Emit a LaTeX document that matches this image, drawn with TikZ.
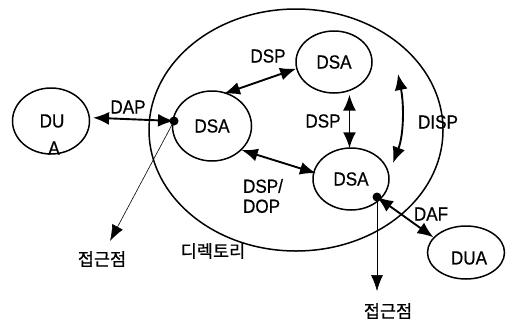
\documentclass[tikz,border=0pt]{standalone}
\usepackage{fontspec}
\setmainfont{Liberation Sans}[FakeStretch=0.9,FakeBold=0.6]
\newfontfamily\kr{Noto Sans CJK KR}[FakeBold=0.6]
\usetikzlibrary{shapes.geometric,arrows.meta}
\begin{document}
\begin{tikzpicture}[x=1pt,y=-1pt,
  ell/.style={draw, ellipse, line width=1.5pt, inner sep=0pt},
  lbl/.style={inner sep=0pt, font=\fontsize{19}{20}\selectfont},
  klbl/.style={inner sep=0pt, font=\kr\fontsize{17.5}{18}\selectfont},
  dbl/.style={line width=1.9pt, {Latex[length=16pt,width=13pt]}-{Latex[length=16pt,width=13pt]}},
  thinarr/.style={line width=0.6pt, -{Latex[length=16pt,width=12pt]}},
  dotn/.style={circle, fill, inner sep=0pt, minimum size=9pt}]
\useasboundingbox (0,0) rectangle (506,322);
% directory boundary
\node[draw, ellipse, line width=1.5pt, minimum width=294pt, minimum height=242pt] (dir) at (296,130) {};
% DUA left
\node[ell, minimum width=77pt, minimum height=66pt] (dua1) at (51,121) {};
\node[lbl] (dua1a) at (52,121) {DU};
\node[lbl] (dua1b) at (54,148) {A};
% DSAs
\node[ell, minimum width=79pt, minimum height=70pt, font=\fontsize{19}{20}\selectfont] (dsaL) at (212,126) {DSA};
\node[ell, minimum width=76pt, minimum height=62pt, font=\fontsize{19}{20}\selectfont] (dsaT) at (334,62) {DSA};
\node[ell, minimum width=76pt, minimum height=62pt, font=\fontsize{19}{20}\selectfont] (dsaBR) at (351,179) {DSA};
% DUA bottom right
\node[ell, minimum width=77pt, minimum height=53pt] (dua2) at (466,252.5) {};
\node[lbl] (dua2t) at (469,258) {DUA};
% dots
\node[dotn] (dot1) at (174,121) {};
\node[dotn] (dot2) at (377,197) {};
% access point arrows
\coordinate (tip1) at (110,241);
\coordinate (tip2) at (377,291);
\draw[thinarr] (dot1.center) -- (tip1);
\draw[thinarr] (dot2.center) -- (tip2);
% protocol arrows
\draw[dbl, shorten <=3pt] (dua1.5) -- (dot1.center);
\draw[dbl, shorten <=-3pt] (dsaL.66) -- (dsaT.190);
\draw[dbl, shorten >=-3pt] (dsaL.-39) -- (dsaBR.170);
\draw[dbl, shorten <=3.5pt, shorten >=-1pt] (dsaT.-62) -- (dsaT.-62 |- dsaBR.north);
\draw[dbl] (dot2.center) -- (dua2.155);
\coordinate (dispT) at (398,74);
\coordinate (dispB) at (393,163);
\draw[dbl] (dispT) .. controls (404,104) and (404,134) .. (dispB);
% labels
\node[lbl] (lDAP) at (128,107) {DAP};
\node[lbl] (lDSP1) at (268,56) {DSP};
\node[lbl] (lDSP2) at (323,121) {DSP};
\node[lbl] (lDISP) at (438,122) {DISP};
\node[lbl, align=left] (lDSPDOP) at (263,196) {DSP/\\DOP};
\node[lbl] (lDAF) at (431,214) {DAF};
\node[klbl] (acc1) at (102,259) {접근점};
\node[klbl] (acc2) at (388,311) {접근점};
\node[klbl] (ldir) at (213,251) {디렉토리};
\end{tikzpicture}
\end{document}
